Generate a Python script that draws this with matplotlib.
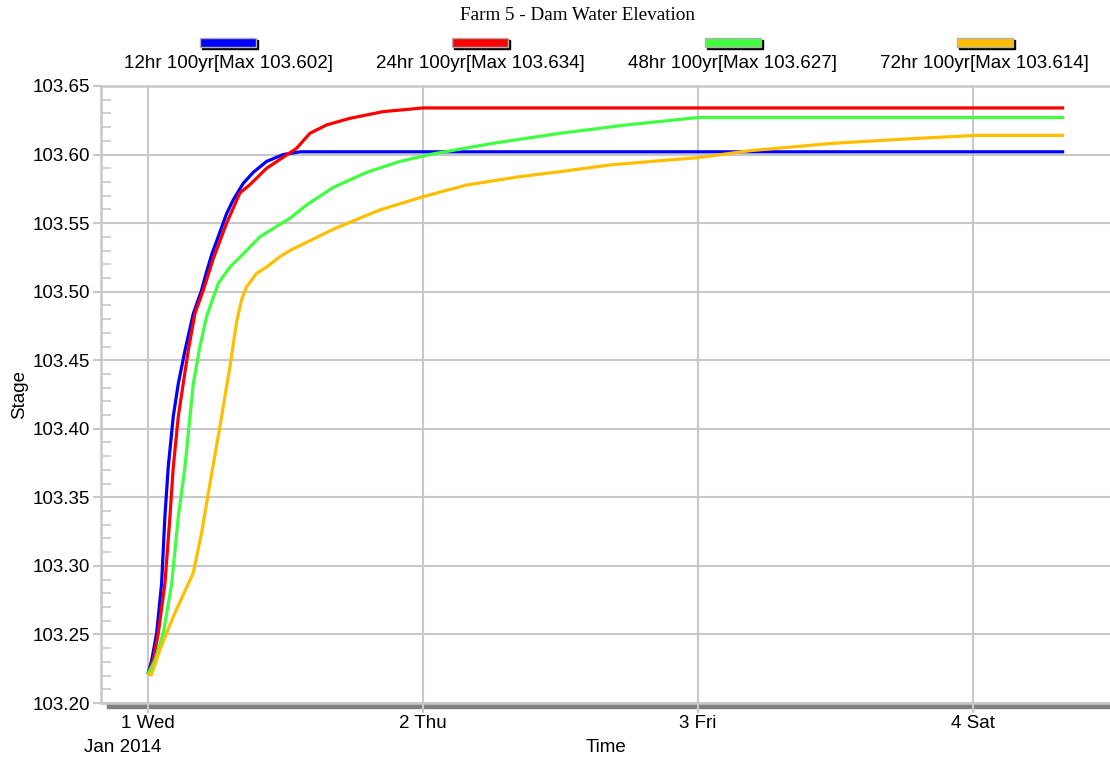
import matplotlib
matplotlib.use("Agg")
import matplotlib.pyplot as plt
import matplotlib.dates as mdates
from matplotlib.patches import Rectangle
from matplotlib.ticker import MultipleLocator, FormatStrFormatter
import pandas as pd

plt.rcParams['font.family'] = ['Liberation Sans', 'DejaVu Sans']

# hours after 2014-01-01 00:00 and stage values for each storm duration
h12 = [0, 0.32, 0.76, 1.19, 1.48, 1.77, 2.21, 2.65, 3.23, 3.96, 4.68, 5.1, 5.6,
       6.0, 6.87, 7.45, 8.32, 9.19, 10.36, 11.81, 13.3, 80]
v12 = [103.221, 103.231, 103.251, 103.287, 103.336, 103.372, 103.409, 103.433,
       103.457, 103.484, 103.501, 103.514, 103.528, 103.537, 103.557, 103.567,
       103.579, 103.587, 103.595, 103.600, 103.602, 103.602]

h24 = [0, 0.46, 0.9, 1.48, 1.92, 2.21, 2.65, 3.08, 3.52, 4.1, 4.83, 5.7, 6.87,
       8.03, 8.9, 10.36, 11.81, 12.97, 14.14, 15.6, 17.63, 20.53, 24.0, 80]
v24 = [103.221, 103.231, 103.251, 103.287, 103.336, 103.372, 103.409, 103.433,
       103.457, 103.484, 103.501, 103.524, 103.550, 103.572, 103.578, 103.590,
       103.598, 103.6045, 103.6155, 103.6216, 103.6264, 103.6313, 103.634, 103.634]

h48 = [0, 0.61, 1.34, 2.07, 2.65, 3.23, 3.67, 3.96, 4.54, 5.12, 6.14, 7.16,
       8.61, 9.77, 12.39, 13.85, 16.17, 19.09, 22.0, 24.9, 30.14, 35.96, 41.78,
       48.0, 80]
v48 = [103.221, 103.231, 103.251, 103.287, 103.336, 103.372, 103.409, 103.433,
       103.460, 103.482, 103.506, 103.518, 103.530, 103.540, 103.5535, 103.5632,
       103.5760, 103.5870, 103.5950, 103.6005, 103.6082, 103.6155, 103.6216,
       103.627, 103.627]

h72 = [0, 0.3, 1.05, 2.21, 3.96, 4.68, 5.41, 6.28, 7.16, 7.74, 8.2, 8.61, 9.49,
       10.36, 11.52, 12.39, 16.3, 20.25, 24.03, 27.81, 32.47, 35.96, 40.32,
       44.68, 48.0, 52.54, 59.8, 65.63, 72.3, 80]
v72 = [103.221, 103.2205, 103.239, 103.263, 103.295, 103.324, 103.360, 103.4015,
       103.4453, 103.478, 103.495, 103.5036, 103.5134, 103.518, 103.5255, 103.530,
       103.546, 103.5596, 103.5693, 103.5778, 103.5839, 103.5875, 103.5924,
       103.5955, 103.5977, 103.6028, 103.6082, 103.6111, 103.614, 103.614]

labels = ['12hr 100yr[Max 103.602]', '24hr 100yr[Max 103.634]',
          '48hr 100yr[Max 103.627]', '72hr 100yr[Max 103.614]']
colors = ['#0000ff', '#ff0000', '#40ff40', '#ffbf00']
series = [(h12, v12), (h24, v24), (h48, v48), (h72, v72)]
day_labels = ['1 Wed', '2 Thu', '3 Fri', '4 Sat']

start = pd.Timestamp('2014-01-01')
W, H = 1110, 758
fs = 13.5
fig = plt.figure(figsize=(W / 100, H / 100), dpi=100)
ax = fig.add_axes([101 / W, 1 - 703 / H, 1 - 101 / W, (703 - 86) / H])

grid_c = '#c8c8c8'
for (hh, vv), c in zip(series, colors):
    t = start + pd.to_timedelta(hh, unit='h')
    ax.plot(t, vv, color=c, lw=2.3, solid_capstyle='butt',
            solid_joinstyle='round', zorder=3)

ax.set_xlim(start - pd.Timedelta(hours=4.1), start + pd.Timedelta(hours=84))
ax.set_ylim(103.20, 103.65)

days = [start + pd.Timedelta(days=i) for i in range(4)]
ax.set_xticks(days)
ax.set_xticklabels(day_labels, fontsize=fs)
ax.yaxis.set_major_locator(MultipleLocator(0.05))
ax.yaxis.set_minor_locator(MultipleLocator(0.01))
ax.yaxis.set_major_formatter(FormatStrFormatter('%.2f'))
ax.tick_params(axis='y', which='major', length=6, width=1.5, color=grid_c,
               labelsize=fs, pad=2)
ax.tick_params(axis='y', which='minor', direction='in', length=7, width=1.2,
               color=grid_c)
ax.tick_params(axis='x', length=7, width=1.5, color=grid_c, labelsize=fs, pad=2)
ax.grid(True, which='major', color=grid_c, lw=1.5)

ax.spines['right'].set_visible(False)
for side in ['left', 'top', 'bottom']:
    ax.spines[side].set_color(grid_c)
    ax.spines[side].set_linewidth(1.8)

# dark bar under the time axis
ax.add_patch(Rectangle((107 / W, 1 - 708 / H), 1 - 107 / W, 5 / H,
                       transform=fig.transFigure, color='#808080',
                       clip_on=False, zorder=1.4))

ax.annotate('Jan 2014', xy=(mdates.date2num(days[0]), 0),
            xycoords=('data', 'axes fraction'), xytext=(-18, -32),
            textcoords='offset points', ha='center', va='center', fontsize=fs)
ax.set_xlabel('Time', fontsize=fs, labelpad=5)
ax.set_ylabel('Stage', fontsize=fs, labelpad=3)

fig.text(578 / W, 1 - 16 / H, 'Farm 5 - Dam Water Elevation',
         family='Liberation Serif', fontsize=13.8, ha='center', va='center')

# legend: shadowed colour swatches with labels underneath
for i, (lab, c) in enumerate(zip(labels, colors)):
    xc = 228 + 252.3 * i
    x0, y0, bw, bh = xc - 28, 1 - 47 / H, 56, 9
    fig.patches.append(Rectangle(((x0 + 2) / W, y0 - 2 / H), bw / W, bh / H,
                                 transform=fig.transFigure, color='black'))
    fig.patches.append(Rectangle((x0 / W, y0), bw / W, bh / H,
                                 transform=fig.transFigure, facecolor=c,
                                 edgecolor='#b0b0b0', lw=1))
    fig.text(xc / W, 1 - 63 / H, lab, fontsize=fs, ha='center', va='center')

fig.savefig('out.png', dpi=100)
